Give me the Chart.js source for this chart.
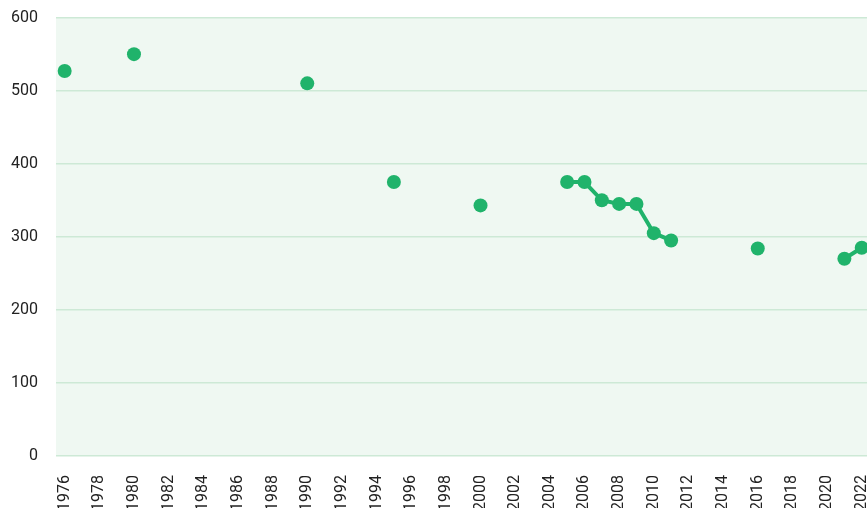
<!DOCTYPE html>
<html>
<head>
<meta charset="utf-8">
<script src="https://cdn.jsdelivr.net/npm/chart.js@4/dist/chart.umd.min.js"></script>
<style>
html,body{margin:0;padding:0;overflow:hidden;background:#fff;}
#wrap{position:absolute;left:0;top:-10px;width:892px;height:540px;}
</style>
</head>
<body>
<div id="wrap"><canvas id="c"></canvas></div>
<script>
const years=[];
for(let y=1976;y<=2022;y++) years.push(String(y));
const knownYears=["1976","1980","1990","1995","2000","2005","2006","2007","2008","2009","2010","2011","2016","2021","2022"];
const knownValues=[527,550,510,375,343,375,375,350,345,345,305,295,284,270,285];
const yTicks=[0,100,200,300,400,500,600];

const series=years.map(y=>{
    const i=knownYears.indexOf(y);
    return i<0?null:knownValues[i];
});

const green='#20b36b';

const bgPlugin={
    id:'bg',
    beforeDraw(chart){
        const a=chart.chartArea,ctx=chart.ctx;
        ctx.save();
        ctx.fillStyle='#eff8f2';
        ctx.fillRect(a.left,a.top,a.right-a.left,a.bottom-a.top);
        ctx.restore();
    }
};

new Chart(document.getElementById('c'),{
    type:'line',
    data:{labels:years,datasets:[{
        data:series,
        borderColor:green,
        backgroundColor:green,
        borderWidth:4,
        pointRadius:7,
        pointHoverRadius:7,
        pointBorderWidth:0,
        spanGaps:false,
        tension:0
    }]},
    options:{
        responsive:true,
        maintainAspectRatio:false,
        animation:false,
        layout:{padding:{top:0,right:0,left:0,bottom:0}},
        plugins:{legend:{display:false},tooltip:{enabled:false}},
        scales:{
            x:{
                offset:true,
                grid:{display:false},
                border:{display:false},
                ticks:{
                    autoSkip:false,
                    maxRotation:90,
                    minRotation:90,
                    padding:11,
                    color:'#222',
                    font:{family:'Roboto',size:16},
                    callback:function(v,i){return i%2===0?years[i]:'';}
                },
                afterFit(s){s.height=74;}
            },
            y:{
                min:0,max:600,
                afterBuildTicks(s){s.ticks=yTicks.map(v=>({value:v}));},
                grid:{color:'#cde9d6',lineWidth:1.5,drawTicks:false},
                border:{display:false},
                ticks:{
                    padding:18,
                    color:'#222',
                    font:{family:'Roboto',size:16}
                },
                afterFit(s){s.width=56;}
            }
        }
    },
    plugins:[bgPlugin]
});
</script>
</body>
</html>
